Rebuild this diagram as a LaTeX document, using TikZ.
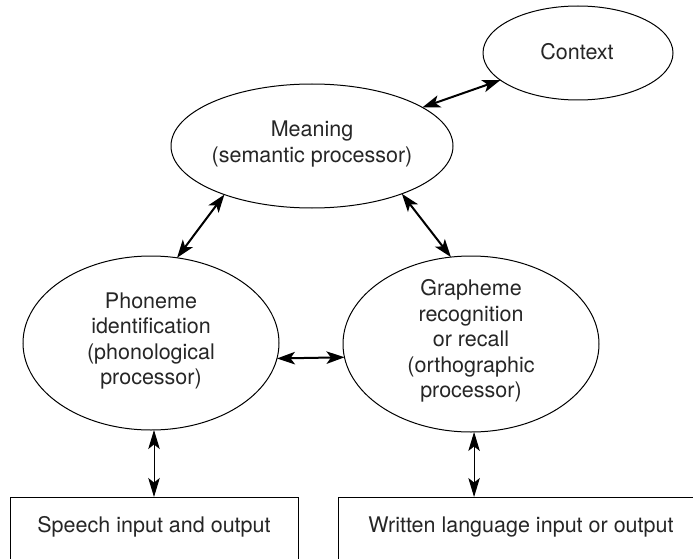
\documentclass[tikz,border=0pt]{standalone}
\usepackage{fontspec}
\setmainfont{TeX Gyre Heros}
\usetikzlibrary{shapes.geometric,arrows.meta}
\begin{document}
\begin{tikzpicture}[x=1pt,y=-1pt,
  ell/.style={draw, ellipse, line width=1pt, inner sep=0pt, outer sep=0pt},
  lbl/.style={align=center, font=\fontsize{21.5}{25.5}\selectfont, inner sep=0pt, text=black!85},
  boxnode/.style={draw, rectangle, line width=1pt, inner sep=0pt, outer sep=0pt, anchor=north west},
  thickarr/.style={{Stealth[length=18pt,width=12.5pt,inset=4.5pt]}-{Stealth[length=18pt,width=12.5pt,inset=4.5pt]}, line width=2pt},
  thinarr/.style={{Stealth[length=19pt,width=11.5pt,inset=4.5pt]}-{Stealth[length=19pt,width=11.5pt,inset=4.5pt]}, line width=1pt}]
\useasboundingbox (0,0) rectangle (693,559);
\clip (0,0) rectangle (693,559);
\fill[white] (0,0) rectangle (693,559);

% ellipses
\node[ell, minimum width=190, minimum height=94] (ctx) at (578,53) {};
\node[ell, minimum width=282, minimum height=124] (mean) at (312,146) {};
\node[ell, minimum width=256, minimum height=174] (phon) at (151,343) {};
\node[ell, minimum width=256, minimum height=176] (graph) at (471,344) {};

% boxes
\node[boxnode, minimum width=288, minimum height=90] (speech) at (10,497) {};
\node[boxnode, minimum width=400, minimum height=90] (written) at (338,497) {};

% texts
\node[lbl] (ctxtxt) at (577,52) {Context};
\node[lbl] (meantxt) at (312,144) {Meaning\\(semantic processor)};
\node[lbl] (phontxt) at (151,341) {Phoneme\\identification\\(phonological\\processor)};
\node[lbl] (graphtxt) at (471,341) {Grapheme\\recognition\\or recall\\(orthographic\\processor)};
\node[lbl] (speechtxt) at (154,527) {Speech input and output};
\node[lbl] (writtentxt) at (521,527) {Written language input or output};

% connectors
\draw[thickarr] (mean) -- (ctx);
\draw[thickarr] (mean.209) -- (phon.73);
\draw[thickarr] (mean.332) -- (graph.103);
\draw[thickarr] (phon.-7) -- (graph.186.5);
\draw[thinarr] (speech.north |- phon.south) -- (speech.north);
\draw[thinarr] (graph.-88) -- (graph.-88 |- written.north);
\end{tikzpicture}
\end{document}
